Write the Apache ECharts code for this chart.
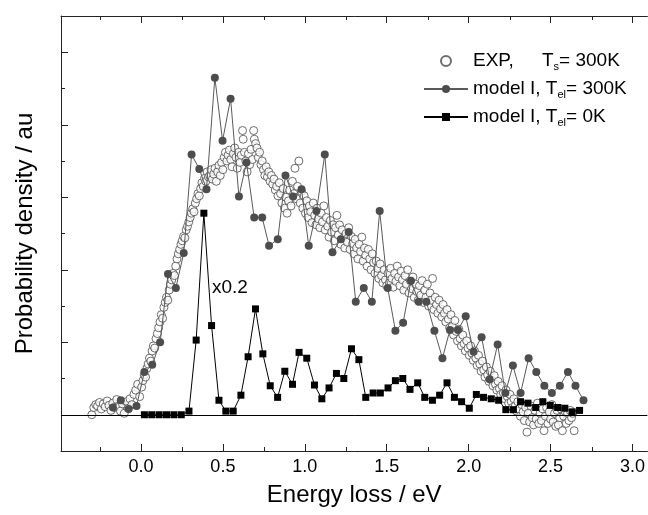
<!DOCTYPE html>
<html>
<head>
<meta charset="utf-8">
<script src="https://cdn.jsdelivr.net/npm/echarts@6/dist/echarts.min.js"></script>
<style>
html, body { margin: 0; padding: 0; background: #fff; }
#main { width: 648px; height: 515px; }
</style>
</head>
<body>
<div id="main"></div>
<script>
// tick positions
var xMajor = [0, 0.5, 1, 1.5, 2, 2.5, 3];
var xMinor = [-0.25, 0.25, 0.75, 1.25, 1.75, 2.25, 2.75];
var yMajor = [0, 1, 2, 3, 4, 5];
var yMinor = [0.5, 1.5, 2.5, 3.5, 4.5];

// EXP, Ts = 300K  (open circles)
var expPts = [
  [-0.300,0.00],[-0.288,0.10],[-0.276,0.14],[-0.265,0.12],[-0.253,0.17],[-0.242,0.08],[-0.230,0.15],[-0.218,0.11],
  [-0.206,0.19],[-0.195,0.13],[-0.183,0.06],[-0.172,0.16],[-0.160,0.10],[-0.148,0.21],[-0.137,0.12],[-0.125,0.05],
  [-0.113,0.15],[-0.102,0.02],[-0.090,0.18],[-0.078,0.09],[-0.067,0.22],[-0.055,0.14],[-0.043,0.28],[-0.032,0.34],
  [-0.020,0.42],[-0.008,0.25],
  [0.004,0.38],[0.012,0.47],[0.020,0.55],[0.028,0.52],[0.036,0.64],[0.044,0.70],[0.052,0.78],[0.060,0.74],
  [0.068,0.88],[0.076,0.95],[0.084,0.92],[0.092,1.05],[0.100,1.12],[0.108,1.20],[0.116,1.28],[0.124,1.38],
  [0.132,1.33],[0.140,1.48],[0.148,1.55],[0.156,1.62],[0.164,1.58],[0.172,1.72],[0.180,1.80],[0.188,1.86],
  [0.196,1.95],[0.204,1.92],[0.212,2.05],[0.220,2.15],[0.228,2.22],[0.236,2.28],[0.244,2.35],[0.252,2.40],
  [0.260,2.46],[0.268,2.44],[0.276,2.55],[0.284,2.60],[0.292,2.66],[0.300,2.72],
  [0.308,2.78],[0.316,2.84],[0.324,2.80],[0.332,2.92],[0.340,2.98],[0.348,3.05],[0.356,3.02],[0.364,3.12],
  [0.372,3.20],[0.380,3.15],[0.388,3.26],[0.396,3.22],[0.404,3.35],[0.412,3.28],[0.420,3.30],[0.428,3.38],
  [0.436,3.25],[0.444,3.32],[0.452,3.40],[0.460,3.22],[0.468,3.35],[0.476,3.44],[0.484,3.30],[0.492,3.48],
  [0.500,3.38],[0.508,3.55],[0.516,3.62],[0.524,3.50],[0.532,3.58],[0.540,3.65],[0.548,3.52],[0.556,3.42],
  [0.564,3.60],[0.572,3.68],[0.580,3.55],[0.588,3.40],[0.596,3.62],[0.604,3.48],[0.612,3.58],[0.620,3.92],
  [0.624,3.80],[0.632,3.62],[0.640,3.50],[0.648,3.35],[0.656,3.60],[0.664,3.45],[0.672,3.66],[0.680,3.52],
  [0.688,3.92],[0.692,3.80],[0.700,3.74],[0.708,3.68],[0.716,3.55],[0.724,3.62],[0.732,3.45],[0.740,3.50],
  [0.748,3.38],[0.756,3.30],[0.764,3.42],[0.772,3.28],[0.780,3.35],[0.788,3.22],[0.796,3.30],[0.804,3.18],
  [0.812,3.25],[0.820,3.10],[0.828,3.15],[0.836,3.02],[0.844,3.20],[0.852,3.05],[0.860,2.92],[0.868,3.12],
  [0.876,2.85],[0.884,3.00],[0.892,2.78],[0.900,2.95],
  [0.908,3.10],[0.916,2.88],[0.924,3.22],[0.932,3.05],[0.940,3.40],[0.948,2.98],[0.956,3.15],[0.964,3.50],
  [0.972,2.92],[0.980,3.08],[0.988,2.85],[0.996,3.02],[1.004,2.78],[1.012,2.95],[1.020,2.72],[1.028,2.88],
  [1.036,2.80],[1.044,2.65],[1.052,2.92],[1.060,2.75],[1.068,2.62],[1.076,2.85],[1.084,2.70],[1.092,2.58],
  [1.100,2.78],[1.108,2.66],[1.116,2.88],[1.124,2.55],[1.132,2.72],[1.140,2.60],[1.148,2.45],[1.156,2.68],
  [1.164,2.52],[1.172,2.62],[1.180,2.40],[1.188,2.58],[1.196,2.75],[1.204,2.48],[1.212,2.62],[1.220,2.35],
  [1.228,2.55],[1.236,2.44],[1.244,2.30],[1.252,2.50],[1.260,2.38],[1.268,2.58],[1.276,2.28],[1.284,2.46],
  [1.292,2.36],[1.300,2.22],[1.308,2.42],[1.316,2.30],[1.324,2.15],[1.332,2.35],[1.340,2.25],[1.348,2.45],
  [1.356,2.12],[1.364,2.30],[1.372,2.20],[1.380,2.05],[1.388,2.28],[1.396,2.15],[1.404,2.00],[1.412,2.22],
  [1.420,2.10],[1.428,1.95],[1.436,2.12],[1.444,2.02],[1.452,1.88],[1.460,2.08],[1.468,1.92],[1.476,1.82],
  [1.484,2.00],[1.492,1.86],[1.500,1.78],
  [1.508,1.95],[1.516,1.82],[1.524,2.02],[1.532,1.88],[1.540,1.76],[1.548,1.95],[1.556,1.84],[1.564,2.05],
  [1.572,1.90],[1.580,1.78],[1.588,1.98],[1.596,1.86],[1.604,1.72],[1.612,1.92],[1.620,1.80],[1.628,2.00],
  [1.636,1.68],[1.644,1.85],[1.652,1.74],[1.660,1.90],[1.668,1.62],[1.676,1.80],[1.684,1.70],[1.692,1.58],
  [1.700,1.78],[1.708,1.65],[1.716,1.85],[1.724,1.55],[1.732,1.72],[1.740,1.62],[1.748,1.80],[1.756,1.50],
  [1.764,1.68],[1.772,1.58],[1.780,1.88],[1.788,1.45],[1.796,1.62],[1.804,1.52],[1.812,1.40],[1.820,1.58],
  [1.828,1.46],[1.836,1.35],[1.844,1.52],[1.852,1.40],[1.860,1.28],[1.868,1.45],[1.876,1.32],[1.884,1.20],
  [1.892,1.38],[1.900,1.22],[1.908,1.10],[1.916,1.30],[1.924,1.15],[1.932,1.02],[1.940,1.18],[1.948,1.05],
  [1.956,0.95],[1.964,1.10],[1.972,0.98],[1.980,0.88],[1.988,1.02],[1.996,0.92],
  [2.004,0.82],[2.012,0.95],[2.020,0.85],[2.028,0.75],[2.036,0.88],[2.044,0.78],[2.052,0.68],[2.060,0.82],
  [2.068,0.70],[2.076,0.60],[2.084,0.74],[2.092,0.62],[2.100,0.52],[2.108,0.66],[2.116,0.55],[2.124,0.46],
  [2.132,0.60],[2.140,0.48],[2.148,0.40],[2.156,0.54],[2.164,0.42],[2.172,0.34],[2.180,0.46],[2.188,0.36],
  [2.196,0.28],[2.204,0.40],[2.212,0.30],[2.220,0.22],[2.228,0.34],[2.236,0.25],[2.244,0.16],[2.252,0.28],
  [2.260,0.18],[2.268,0.10],[2.276,0.22],[2.284,0.12],[2.292,0.05],[2.300,0.18],[2.308,0.08],[2.316,-0.02],
  [2.324,0.14],[2.332,0.04],[2.340,-0.08],[2.348,0.10],[2.356,-0.24],[2.364,0.02],[2.372,-0.10],[2.380,0.12],
  [2.388,-0.04],[2.396,-0.14],[2.404,0.06],[2.412,-0.06],[2.420,0.16],[2.428,-0.12],[2.436,0.02],[2.444,-0.08],
  [2.452,0.08],[2.460,-0.22],[2.468,-0.02],[2.476,0.10],[2.484,-0.12],[2.492,0.04],[2.500,-0.06],[2.508,0.14],
  [2.516,-0.10],[2.524,0.02],[2.532,-0.16],[2.540,0.06],[2.548,-0.14],[2.556,-0.04],[2.564,0.08],[2.572,-0.22],
  [2.580,-0.02],[2.588,0.05],[2.596,-0.12],[2.604,0.02],[2.612,-0.08],[2.620,0.06],[2.628,-0.04],[2.636,0.02],
  [2.644,-0.22]
];

// model I, Tel = 300K
var m300X = [-0.171,-0.123,-0.075,-0.027,0.021,0.069,0.117,0.165,0.213,0.261,
  0.309,0.356,0.400,0.451,0.498,0.547,0.598,0.644,0.691,0.740,
  0.782,0.835,0.882,0.929,0.980,1.024,1.071,1.122,1.169,1.220,
  1.268,1.311,1.360,1.409,1.457,1.506,1.553,1.600,1.648,1.695,
  1.742,1.791,1.840,1.886,1.935,1.982,2.030,2.079,2.128,2.177,
  2.224,2.270,2.317,2.366,2.413,2.462,2.508,2.557,2.606,2.652,2.701];
var m300Y = [0.10,0.20,0.08,0.12,0.59,0.69,1.00,1.94,1.75,2.23,
  3.59,3.39,3.11,4.65,3.78,4.36,3.01,3.48,2.72,2.72,
  2.33,2.42,3.30,3.01,3.11,2.33,2.81,3.59,2.24,2.42,
  2.52,1.56,1.75,1.56,2.81,1.75,1.16,1.27,1.85,1.56,
  1.56,1.16,0.78,1.17,1.17,1.36,0.87,1.07,0.49,0.97,
  0.30,0.68,0.30,0.78,0.59,0.40,0.30,0.40,0.59,0.40,0.20];

// model I, Tel = 0K (scaled x0.2)
var m0X = [0.021,0.066,0.111,0.156,0.201,0.246,0.293,0.337,0.384,0.431,
  0.476,0.518,0.563,0.610,0.654,0.699,0.744,0.789,0.834,0.878,
  0.925,0.965,1.012,1.059,1.104,1.148,1.193,1.238,1.285,1.330,
  1.372,1.417,1.461,1.508,1.553,1.598,1.642,1.689,1.732,1.779,
  1.823,1.868,1.913,1.957,2.004,2.047,2.091,2.138,2.183,2.227,
  2.273,2.317,2.362,2.409,2.453,2.498,2.543,2.587,2.632,2.677];
var m0Y = [0,0,0,0,0,0,0.05,1.03,2.78,1.23,
  0.20,0.05,0.05,0.27,0.80,1.46,0.84,0.40,0.24,0.60,
  0.42,0.86,0.78,0.41,0.22,0.37,0.57,0.50,0.91,0.76,
  0.24,0.30,0.30,0.37,0.47,0.50,0.35,0.44,0.24,0.20,
  0.27,0.44,0.24,0.18,0.09,0.28,0.24,0.22,0.20,0.07,
  0.07,0.18,0.16,0.10,0.18,0.13,0.10,0.09,0.04,0.06];

function zip(xs, ys) {
  return xs.map(function (x, i) { return [x, ys[i]]; });
}

var FONT = '"Liberation Sans", Arial, Helvetica, sans-serif';
var XMIN = -0.488, XMAX = 3.091;
var YMIN = -0.5, YMAX = 5.5;
var AX = '#222';

var legendText = {
  exp: '{w|EXP,}T{s|s}= 300K',
  m300: 'model I, T{s|el}= 300K',
  m0: 'model I, T{s|el}= 0K'
};

function xAx(grid, pos, ticks, len, opts) {
  var a = {
    type: 'value', gridIndex: grid, position: pos, min: XMIN, max: XMAX,
    axisLine: { show: grid === 0, onZero: false, lineStyle: { color: AX, width: 1 } },
    axisTick: { show: true, inside: true, length: len, customValues: ticks, lineStyle: { color: AX, width: 1 } },
    axisLabel: { show: false },
    splitLine: { show: false }
  };
  return Object.assign(a, opts || {});
}

var myChart = echarts.init(document.getElementById('main'));

var option = {
  animation: false,
  backgroundColor: '#fff',
  grid: [
    { left: 61, right: 0, top: 16, bottom: 64 },
    { left: 61, right: 0, top: 16, bottom: 64 }
  ],
  xAxis: [
    xAx(0, 'bottom', xMajor, 7, {
      axisLabel: {
        show: true, customValues: xMajor, margin: 7,
        formatter: function (v) { return v.toFixed(1); },
        fontSize: 18, color: '#000', fontFamily: FONT
      },
      name: 'Energy loss / eV', nameLocation: 'middle', nameGap: 32,
      nameTextStyle: { fontSize: 24, color: '#000', fontFamily: FONT }
    }),
    xAx(0, 'top', xMajor, 7),
    xAx(1, 'bottom', xMinor, 4),
    xAx(1, 'top', xMinor, 4)
  ],
  yAxis: [
    {
      type: 'value', gridIndex: 0, position: 'left', min: YMIN, max: YMAX,
      axisLine: { show: true, onZero: false, lineStyle: { color: AX, width: 1 } },
      axisTick: { show: true, inside: true, length: 7, customValues: yMajor, lineStyle: { color: AX } },
      axisLabel: { show: false },
      splitLine: { show: false },
      name: 'Probability density / au', nameLocation: 'middle', nameGap: 24,
      nameTextStyle: { fontSize: 24, color: '#000', fontFamily: FONT }
    },
    {
      type: 'value', gridIndex: 1, position: 'left', min: YMIN, max: YMAX,
      axisLine: { show: false, onZero: false },
      axisTick: { show: true, inside: true, length: 4, customValues: yMinor, lineStyle: { color: AX } },
      axisLabel: { show: false },
      splitLine: { show: false }
    }
  ],
  legend: {
    orient: 'vertical', left: 418, top: 45,
    itemWidth: 44, itemHeight: 10, itemGap: 6,
    data: ['exp', 'm300', 'm0'],
    formatter: function (name) { return legendText[name]; },
    textStyle: {
      fontSize: 19, color: '#000', fontFamily: FONT, lineHeight: 22,
      rich: {
        w: { width: 69, fontSize: 19, fontFamily: FONT, lineHeight: 22 },
        s: { fontSize: 11, fontFamily: FONT, lineHeight: 6, verticalAlign: 'bottom' }
      }
    }
  },
  graphic: [
    {
      type: 'text', left: 212, top: 278, silent: true,
      style: { text: 'x0.2', fontSize: 19, fontFamily: FONT, fill: '#000' }
    }
  ],
  series: [
    {
      name: 'exp', type: 'scatter', xAxisIndex: 0, yAxisIndex: 0,
      data: expPts, symbol: 'circle', symbolSize: 8,
      itemStyle: { color: '#fff', borderColor: '#4a4a4a', borderWidth: 1 },
      z: 2
    },
    {
      name: 'm300', type: 'line', xAxisIndex: 0, yAxisIndex: 0,
      data: zip(m300X, m300Y), symbol: 'circle', symbolSize: 8, showAllSymbol: true,
      lineStyle: { color: '#5a5a5a', width: 1 },
      itemStyle: { color: '#4d4d4d', borderWidth: 0 },
      z: 3
    },
    {
      name: 'm0', type: 'line', xAxisIndex: 0, yAxisIndex: 0,
      data: zip(m0X, m0Y), symbol: 'rect', symbolSize: 7, showAllSymbol: true,
      lineStyle: { color: '#000', width: 1 },
      itemStyle: { color: '#000', borderWidth: 0 },
      markLine: {
        silent: true, symbol: 'none', label: { show: false },
        lineStyle: { color: '#000', width: 1, type: 'solid' },
        data: [{ yAxis: 0 }]
      },
      z: 4
    }
  ]
};

myChart.setOption(option);
</script>
</body>
</html>
